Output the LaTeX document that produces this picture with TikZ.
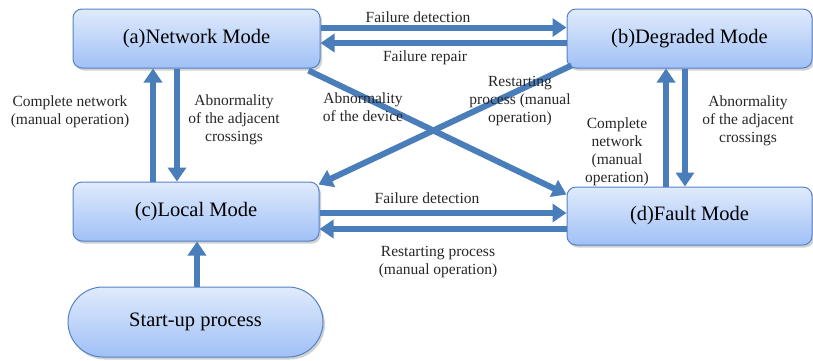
\documentclass[tikz,border=0pt]{standalone}
\usepackage{fontspec}
\setmainfont{Liberation Serif}
\usetikzlibrary{arrows.meta,shadows,calc}
\definecolor{arr}{RGB}{74,126,187}
\definecolor{boxborder}{RGB}{84,130,200}
\definecolor{boxtop}{RGB}{224,235,252}
\definecolor{boxbot}{RGB}{160,192,246}
\begin{document}
\begin{tikzpicture}[x=1pt,y=-1pt,
 modebox/.style={draw=boxborder, line width=1pt, rounded corners=9pt, top color=boxtop, bottom color=boxbot,
   drop shadow={shadow xshift=2pt, shadow yshift=-2.5pt, fill=black!40, opacity=0.45},
   font=\fontsize{20.5}{24}\selectfont, inner sep=0pt},
 flow/.style={draw=arr, line width=6pt, -{Triangle[width=18pt,length=14pt]}},
 lbl/.style={font=\fontsize{15.5}{18}\selectfont, align=center, text=black!85, inner sep=0pt}]
\useasboundingbox (0,0) rectangle (813,360);

\node[modebox, minimum width=247pt, minimum height=59pt] (a) at (196.5,38.5) {(a)Network Mode};
\node[modebox, minimum width=245pt, minimum height=59pt] (b) at (689.5,38.5) {(b)Degraded Mode};
\node[modebox, minimum width=246pt, minimum height=59pt] (c) at (196,211.5) {(c)Local Mode};
\node[modebox, minimum width=245pt, minimum height=58pt] (d) at (689.5,216) {(d)Fault Mode};
\node[modebox, rounded corners=35pt, minimum width=255pt, minimum height=70pt] (s) at (195.5,322) {Start-up process};

% a <-> b
\draw[flow] ([yshift=11pt]a.east) -- ([yshift=11pt]a.east -| b.west);
\draw[flow] ([yshift=-4.5pt]b.west) -- ([yshift=-4.5pt]b.west -| a.east);
% c <-> d
\draw[flow] ([yshift=-1.5pt]c.east) -- ([yshift=-1.5pt]c.east -| d.west);
\draw[flow] ([yshift=-17.5pt]c.east -| d.west) -- ([yshift=-17.5pt]c.east);
% a <-> c
\draw[flow] ([xshift=-19.5pt]a.south) -- ([xshift=-19.5pt]a.south |- c.north);
\draw[flow] ([xshift=-43.5pt]a.south |- c.north) -- ([xshift=-43.5pt]a.south);
% b <-> d
\draw[flow] ([xshift=-4.5pt]b.south) -- ([xshift=-4.5pt]b.south |- d.north);
\draw[flow] ([xshift=-23.5pt]b.south |- d.north) -- ([xshift=-23.5pt]b.south);
% diagonals
\draw[flow] ($(a.south east)+(-12,2)$) -- ($(d.north west)+(0,8)$);
\draw[flow] ($(b.south west)+(5,-3)$) -- ($(c.north east)+(-1,3)$);
% start -> c
\draw[flow] ([xshift=1.5pt]s.north) -- ([xshift=1.5pt]s.north |- c.south);

% labels
\node[lbl] (l1) at (418,17) {Failure detection};
\node[lbl] (l2) at (425,58) {Failure repair};
\node[lbl] (l3) at (70,111.5) {Complete network\\(manual operation)};
\node[lbl] (l4) at (234,120) {Abnormality\\of the adjacent\\crossings};
\node[lbl] (l5) at (363,107) {Abnormality\\of the device};
\node[lbl] (l6) at (520,101) {Restarting\\process (manual\\operation)};
\node[lbl] (l7) at (617,152) {Complete\\network\\(manual\\operation)};
\node[lbl] (l8) at (748,121) {Abnormality\\of the adjacent\\crossings};
\node[lbl] (l9) at (427,198) {Failure detection};
\node[lbl] (l10) at (438,262) {Restarting process\\(manual operation)};
\end{tikzpicture}
\end{document}
